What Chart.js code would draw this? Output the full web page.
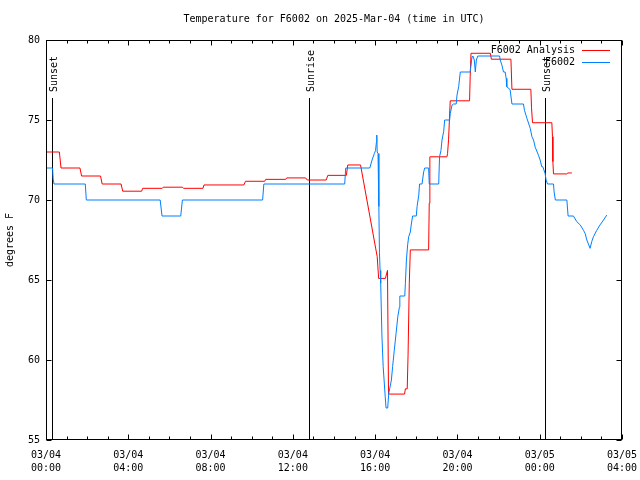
<!DOCTYPE html>
<html><head><meta charset="utf-8">
<script src="https://cdn.jsdelivr.net/npm/chart.js@4/dist/chart.umd.min.js"></script>
<style>html,body{margin:0;padding:0;background:#fff;overflow:hidden}</style>
</head><body>
<canvas id="c" width="640" height="480"></canvas>
<script>
const titleText = 'Temperature for F6002 on 2025-Mar-04 (time in UTC)';
const yTitle = 'degrees F';
const seriesNames = ['F6002 Analysis', 'F6002'];
const seriesColors = ['rgb(255,0,0)', 'rgb(0,128,255)'];
const xTickHours = [0, 4, 8, 12, 16, 20, 24, 28];
const xTickLabels = [['03/04','00:00'],['03/04','04:00'],['03/04','08:00'],['03/04','12:00'],['03/04','16:00'],['03/04','20:00'],['03/05','00:00'],['03/05','04:00']];
const yTicks = [55, 60, 65, 70, 75, 80];
const sunLabels = ['Sunset', 'Sunrise', 'Sunset'];
const sunHours = [0.31, 12.8, 24.27];

// hours since 03/04 00:00 UTC
const analysisHours = [0,0.65,0.73,1.65,1.73,2.65,2.73,3.65,3.73,4.65,
  4.7,5.65,5.7,6.63,6.68,7.63,7.68,9.62,9.7,10.63,
  10.68,11.65,11.7,12.62,12.7,13.62,13.7,14.6,14.67,15.29,
  16.1,16.17,16.5,16.6,16.65,17.43,17.47,17.56,17.6,17.66,
  17.71,18.6,18.63,18.66,19.49,19.52,19.57,19.65,20.59,20.62,
  20.66,21.6,21.65,22.6,22.65,23.57,23.6,23.65,24.59,24.62,
  24.64,24.67,25.32,25.37,25.56];
const analysisTemps = [73.0,73.0,72.0,72.0,71.5,71.5,71.0,71.0,70.55,70.55,
  70.73,70.73,70.8,70.8,70.73,70.73,70.94,70.94,71.17,71.17,
  71.29,71.29,71.38,71.38,71.25,71.25,71.54,71.54,72.19,72.19,
  66.46,65.1,65.1,65.6,57.87,57.87,58.2,58.2,60.3,64.8,
  66.88,66.88,69.8,72.7,72.7,72.9,73.8,76.2,76.2,77.7,
  79.17,79.17,78.8,78.8,76.92,76.92,75.8,74.83,74.83,73.96,
  72.4,71.63,71.63,71.69,71.69];

const obsHours = [0,0.32,0.35,0.39,1.91,1.96,5.55,5.64,6.55,6.63,
  10.53,10.59,14.52,14.57,15.74,15.85,15.96,16.02,16.06,16.08,
  16.1,16.14,16.18,16.21,16.24,16.27,16.33,16.39,16.49,16.53,
  16.61,16.66,16.79,16.85,16.93,17.02,17.1,17.18,17.2,17.44,
  17.47,17.52,17.58,17.63,17.71,17.76,17.82,18.0,18.04,18.12,
  18.16,18.28,18.36,18.41,18.6,18.63,19.09,19.13,19.2,19.25,
  19.33,19.38,19.62,19.65,19.74,19.81,19.94,19.98,20.06,20.14,
  20.62,20.71,20.75,20.82,20.87,20.92,20.99,22.05,22.08,22.16,
  22.24,22.32,22.37,22.4,22.56,22.65,23.21,23.26,23.38,23.54,
  23.62,23.7,23.78,23.94,24.02,24.1,24.15,24.26,24.31,24.38,
  24.67,24.7,24.76,25.32,25.38,25.64,25.8,25.97,26.13,26.21,
  26.29,26.45,26.53,26.61,26.77,26.93,27.1,27.26];
const obsTemps = [72,72,71.3,71,71,70,70,69,69,70,
  70,71,71,72,72,72.5,72.9,73.1,73.6,74.06,
  73.0,72.9,69.6,66.7,65.6,64.8,61.5,59.6,57.7,57,
  57,57.9,58.75,59.6,60.6,61.7,62.7,63.3,64,64,
  64.8,66.25,67.2,67.7,68.0,68.5,69,69,69.6,70.3,
  71,71,71.77,72,72,71,71,72.7,73.1,73.75,
  74.27,75,75,75.4,75.94,76,76,76.56,77.08,78,
  78,78.96,79,78.75,78,78.75,79,79,78.75,78.44,
  78,78,77.6,77.08,76.9,76,76,75.6,75.1,74.48,
  73.96,73.75,73.3,72.8,72.5,72.08,72.08,71.67,71.25,71,
  71,70.5,70,70,69,69,68.65,68.44,68.1,67.9,
  67.5,66.98,67.4,67.7,68.1,68.44,68.75,69.06];

const FONT = "'DejaVu Sans Mono','Liberation Mono',monospace";

const gnuplotLook = {
  id: 'gnuplotLook',
  beforeDraw(chart) {
    const c = chart.ctx;
    c.save(); c.fillStyle = '#fff'; c.fillRect(0, 0, chart.width, chart.height); c.restore();
  },
  beforeDatasetsDraw(chart) {
    const c = chart.ctx, a = chart.chartArea, xs = chart.scales.x;
    c.save();
    c.strokeStyle = '#000'; c.lineWidth = 1; c.fillStyle = '#000';
    c.font = '10px ' + FONT;
    sunHours.forEach((h, i) => {
      const px = Math.round(xs.getPixelForValue(h)) + 0.5;
      c.beginPath(); c.moveTo(px, 98); c.lineTo(px, a.bottom); c.stroke();
      c.save();
      c.translate(px + 1.5, 92);
      c.rotate(-Math.PI / 2);
      c.textAlign = 'left'; c.textBaseline = 'middle';
      c.fillText(sunLabels[i], 0, 0);
      c.restore();
    });
    c.restore();
  },
  afterDraw(chart) {
    const c = chart.ctx, a = chart.chartArea, xs = chart.scales.x, ys = chart.scales.y;
    const L = Math.round(a.left) + 0.5, R = Math.round(a.right) - 0.5;
    const T = Math.round(a.top) + 0.5, B = Math.round(a.bottom) - 0.5;
    c.save();
    c.strokeStyle = '#000'; c.lineWidth = 1;
    c.strokeRect(L, T, R - L, B - T);
    c.beginPath();
    for (let h = 0; h <= 28; h++) {
      const px = Math.round(xs.getPixelForValue(h)) + 0.5;
      const len = (h % 4 === 0) ? 5 : 3;
      c.moveTo(px, B); c.lineTo(px, B - len);
      c.moveTo(px, T); c.lineTo(px, T + len);
    }
    yTicks.forEach(v => {
      const py = Math.round(ys.getPixelForValue(v)) + 0.5;
      c.moveTo(L, py); c.lineTo(L + 5, py);
      c.moveTo(R, py); c.lineTo(R - 5, py);
    });
    c.stroke();

    c.fillStyle = '#000';
    c.font = '10px ' + FONT;
    c.textAlign = 'center'; c.textBaseline = 'middle';
    c.fillText(titleText, (a.left + a.right) / 2, 19);

    c.save();
    c.translate(10, (a.top + a.bottom) / 2);
    c.rotate(-Math.PI / 2);
    c.fillText(yTitle, 0, 0);
    c.restore();

    // legend
    const rows = [50, 62];
    [0, 1].forEach(i => {
      c.textAlign = 'right'; c.textBaseline = 'middle';
      c.fillStyle = '#000';
      c.fillText(seriesNames[i], 575, rows[i]);
      c.strokeStyle = seriesColors[i];
      c.beginPath(); c.moveTo(582, rows[i] + 0.5); c.lineTo(610, rows[i] + 0.5); c.stroke();
    });
    c.restore();
  }
};

new Chart(document.getElementById('c'), {
  type: 'line',
  data: {
    datasets: [
      { label: seriesNames[1], data: obsHours.map((h, i) => ({ x: h, y: obsTemps[i] })),
        borderColor: seriesColors[1], borderWidth: 1, pointRadius: 0, tension: 0, fill: false, order: 0 },
      { label: seriesNames[0], data: analysisHours.map((h, i) => ({ x: h, y: analysisTemps[i] })),
        borderColor: seriesColors[0], borderWidth: 1, pointRadius: 0, tension: 0, fill: false, order: 1 }
    ]
  },
  options: {
    responsive: false, animation: false, devicePixelRatio: 1,
    layout: { padding: { top: 40, right: 18, left: 0, bottom: 0 } },
    plugins: { legend: { display: false }, title: { display: false }, tooltip: { enabled: false } },
    scales: {
      x: {
        type: 'linear', min: 0, max: 28,
        afterBuildTicks: s => { s.ticks = xTickHours.map(v => ({ value: v })); },
        ticks: {
          callback: (v) => xTickLabels[xTickHours.indexOf(v)],
          font: { family: FONT, size: 10, lineHeight: 1.3 }, color: '#000',
          padding: 9, maxRotation: 0, minRotation: 0, autoSkip: false
        },
        grid: { display: false, drawTicks: false }, border: { display: false },
        afterFit: s => { s.height = 40; s.paddingLeft = 0; s.paddingRight = 0; }
      },
      y: {
        min: 55, max: 80,
        afterBuildTicks: s => { s.ticks = yTicks.map(v => ({ value: v })); },
        ticks: { font: { family: FONT, size: 10 }, color: '#000', padding: 6 },
        grid: { display: false, drawTicks: false }, border: { display: false },
        afterFit: s => { s.width = 46; s.paddingTop = 0; s.paddingBottom = 0; }
      }
    }
  },
  plugins: [gnuplotLook]
});
</script>
</body></html>
